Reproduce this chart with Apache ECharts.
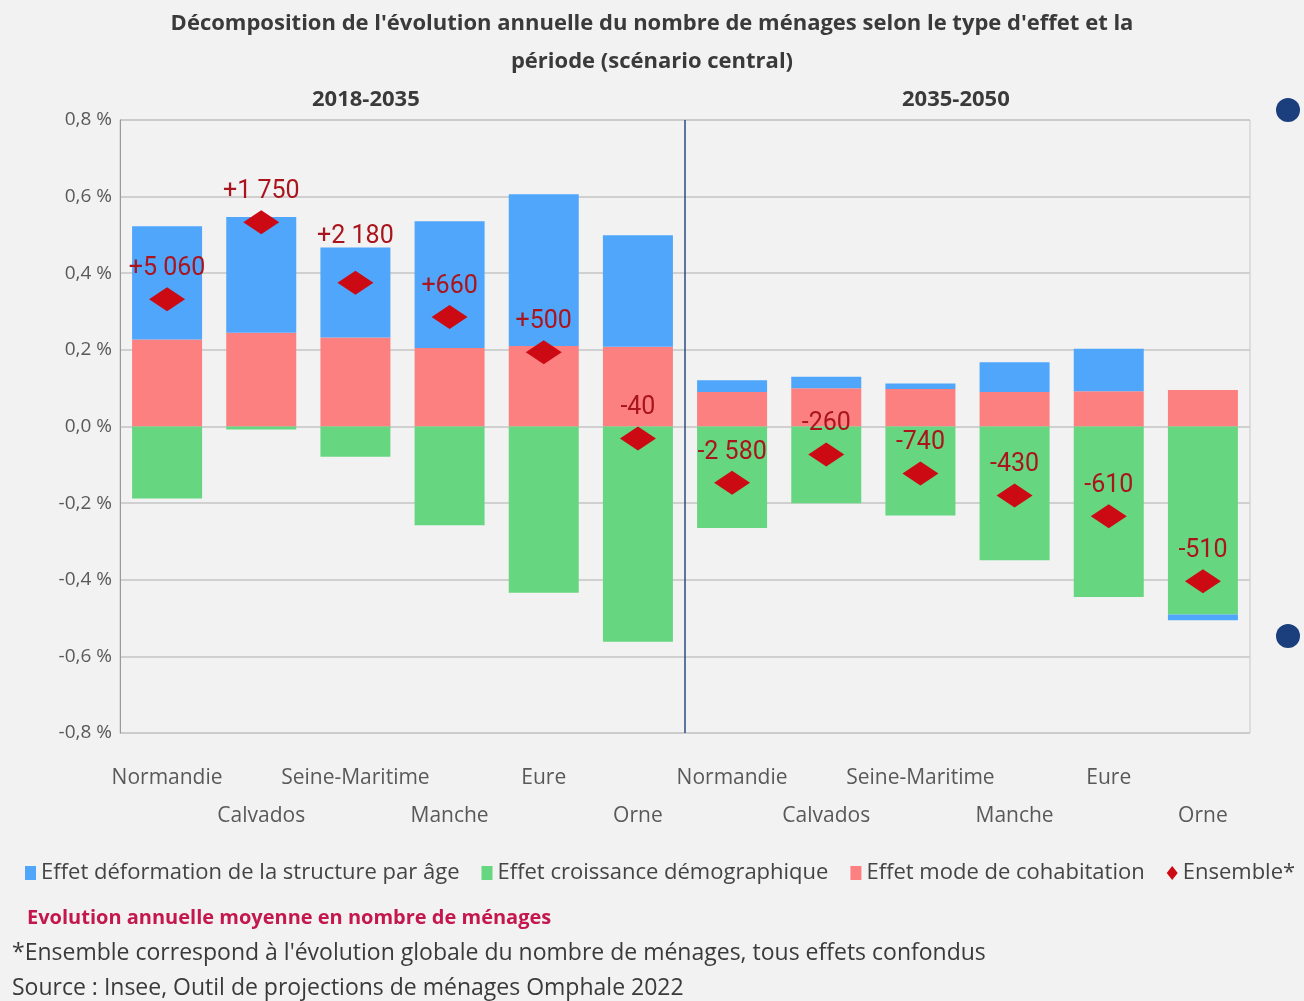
<!DOCTYPE html>
<html>
<head>
<meta charset="utf-8">
<script src="https://cdn.jsdelivr.net/npm/echarts@6/dist/echarts.min.js"></script>
<style>
	html, body { margin: 0; padding: 0; background: #f2f2f2; }
	#chart { width: 1304px; height: 1001px; }
</style>
</head>
<body>
<div id="chart"></div>
<script>
// données (en %)
var zones = ['Normandie', 'Calvados', 'Seine-Maritime', 'Manche', 'Eure', 'Orne',
	'Normandie', 'Calvados', 'Seine-Maritime', 'Manche', 'Eure', 'Orne'];
var periodes = ['2018-2035', '2035-2050'];
var effetAge = [0.296, 0.302, 0.235, 0.331, 0.396, 0.291, 0.031, 0.030, 0.014, 0.078, 0.111, -0.015];
var effetCroissance = [-0.188, -0.008, -0.079, -0.258, -0.434, -0.562, -0.265, -0.200, -0.232, -0.349, -0.445, -0.491];
var effetCohabitation = [0.227, 0.245, 0.232, 0.205, 0.210, 0.208, 0.090, 0.100, 0.098, 0.090, 0.092, 0.095];
var ensemble = [0.332, 0.533, 0.375, 0.286, 0.194, -0.031, -0.147, -0.073, -0.123, -0.180, -0.234, -0.404];
var ensembleLabels = ['+5 060', '+1 750', '+2 180', '+660', '+500', '-40',
	'-2 580', '-260', '-740', '-430', '-610', '-510'];

var chart = echarts.init(document.getElementById('chart'));

var texte = '"Open Sans", sans-serif';
var etroit = '"Roboto", sans-serif';

// points "Ensemble" : l'étiquette de Seine-Maritime est remontée au-dessus de la barre
var ensembleData = ensemble.map(function(v, i) {
	var item = { value: v };
	if (i == 2) item.label = { offset: [0, -16] };
	return item;
});

var option = {
	backgroundColor: '#f2f2f2',
	animation: false,
	title: [{
		text: "Décomposition de l'évolution annuelle du nombre de ménages selon le type d'effet et la\npériode (scénario central)",
		left: 'center',
		top: 0,
		textStyle: { fontFamily: texte, fontSize: 22, fontWeight: 'bold', color: '#3a3a3a', lineHeight: 38 }
	}, {
		text: 'Evolution annuelle moyenne en nombre de ménages',
		left: 22,
		top: 903,
		textStyle: { fontFamily: texte, fontSize: 20, fontWeight: 'bold', color: '#c3174d' }
	}, {
		text: "*Ensemble correspond à l'évolution globale du nombre de ménages, tous effets confondus",
		left: 7,
		top: 937,
		textStyle: { fontFamily: texte, fontSize: 23, fontWeight: 'normal', color: '#3a3a3a' }
	}, {
		text: 'Source : Insee, Outil de projections de ménages Omphale 2022',
		left: 7,
		top: 972,
		textStyle: { fontFamily: texte, fontSize: 23, fontWeight: 'normal', color: '#3a3a3a' }
	}],
	legend: {
		left: 20,
		top: 857,
		width: 1500,
		itemWidth: 11,
		itemHeight: 14,
		itemGap: 22,
		textStyle: { fontFamily: texte, fontSize: 22, color: '#444' },
		data: [
			{ name: 'Effet déformation de la structure par âge', icon: 'rect' },
			{ name: 'Effet croissance démographique', icon: 'rect' },
			{ name: 'Effet mode de cohabitation', icon: 'rect' },
			{ name: 'Ensemble*', icon: 'diamond' }
		]
	},
	grid: {
		left: 120,
		right: 54,
		top: 120,
		bottom: 268,
		show: true,
		borderColor: '#c8c8c8',
		borderWidth: 1
	},
	xAxis: [{
		type: 'category',
		data: zones,
		axisLine: { show: false },
		axisTick: { show: false },
		axisLabel: {
			interval: 0,
			margin: 26,
			fontFamily: texte,
			fontSize: 21,
			color: '#595959',
			lineHeight: 38,
			formatter: function(v, i) {
				return i % 2 == 1 ? '\n' + v : v;
			}
		}
	}, {
		type: 'value',
		min: 0,
		max: 12,
		show: false
	}],
	yAxis: {
		type: 'value',
		min: -0.8,
		max: 0.8,
		interval: 0.2,
		axisLine: { show: true, lineStyle: { color: '#9a9a9a' } },
		axisTick: { show: false },
		splitLine: { lineStyle: { color: '#c4c4c4', width: 1.5 } },
		axisLabel: {
			margin: 8,
			fontFamily: texte,
			fontSize: 19,
			color: '#595959',
			formatter: function(v) {
				return v.toFixed(1).replace('.', ',') + ' %';
			}
		}
	},
	series: [{
		name: 'Effet mode de cohabitation',
		type: 'bar',
		stack: 'effets',
		barWidth: 70,
		itemStyle: { color: '#fd8080' },
		data: effetCohabitation
	}, {
		name: 'Effet croissance démographique',
		type: 'bar',
		stack: 'effets',
		itemStyle: { color: '#66d680' },
		data: effetCroissance
	}, {
		name: 'Effet déformation de la structure par âge',
		type: 'bar',
		stack: 'effets',
		itemStyle: { color: '#4fa6fb' },
		data: effetAge
	}, {
		name: 'Ensemble*',
		type: 'scatter',
		symbol: 'diamond',
		symbolSize: [36, 24],
		itemStyle: { color: '#cc0a14', opacity: 1 },
		z: 5,
		label: {
			show: true,
			position: 'top',
			distance: 6,
			fontFamily: etroit,
			fontSize: 25,
			color: '#aa141c',
			formatter: function(p) {
				return ensembleLabels[p.dataIndex];
			}
		},
		data: ensembleData
	}, {
		// séparation entre les deux périodes
		type: 'scatter',
		xAxisIndex: 1,
		data: [],
		silent: true,
		markLine: {
			symbol: 'none',
			silent: true,
			label: { show: false },
			lineStyle: { color: '#2b4a80', type: 'solid', width: 1.5 },
			data: [{ xAxis: 6 }]
		}
	}],
	graphic: [{
		type: 'text',
		left: 312,
		top: 89,
		style: { text: periodes[0], fontFamily: texte, fontSize: 22, fontWeight: 'bold', fill: '#3a3a3a' }
	}, {
		type: 'text',
		left: 902,
		top: 89,
		style: { text: periodes[1], fontFamily: texte, fontSize: 22, fontWeight: 'bold', fill: '#3a3a3a' }
	}, {
		type: 'circle',
		shape: { cx: 1288, cy: 110, r: 12 },
		style: { fill: '#1b3f7c' }
	}, {
		type: 'circle',
		shape: { cx: 1288, cy: 636, r: 12 },
		style: { fill: '#1b3f7c' }
	}]
};

chart.setOption(option);
</script>
</body>
</html>
